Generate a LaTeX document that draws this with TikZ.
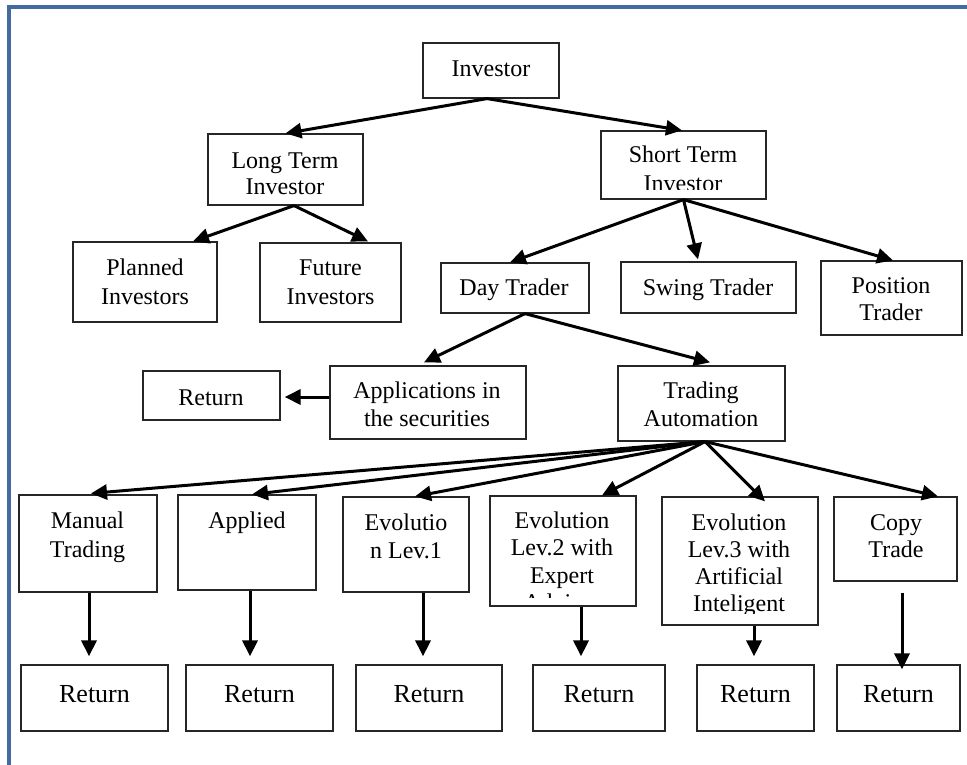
\documentclass[tikz,border=0pt]{standalone}
\usepackage{fontspec}
\setmainfont{Liberation Serif}
\usetikzlibrary{arrows.meta}

\definecolor{framecol}{RGB}{66,108,160}

% one text line per node, first baseline at (x,y), lines #4 apart
\newcommand\boxtext[5]{%
  \foreach \ln [count=\k] in {#5} {%
    \node[txt] (#1-\k) at (#2,{#3+#4*(\k-1)}) {\ln};}}

\begin{document}
\begin{tikzpicture}[x=1pt,y=-1pt,
  box/.style={draw=black!85,line width=1.2pt,inner sep=0pt,
    minimum width=#1},
  txt/.style={anchor=base,inner sep=0pt,font=\fontsize{24}{28}\selectfont},
  bigtxt/.style={txt,font=\fontsize{26}{30}\selectfont},
  arr/.style={line width=3pt,-{Triangle[length=16pt,width=15pt]}}]

\useasboundingbox (0,0) rectangle (967,765);

% page frame (top and left edges)
\draw[framecol,line width=3.2pt] (9,765) -- (9,7) -- (967,7);

% boxes
\node[box=136,minimum height=55] (inv) at (491,70.5) {};
\node[box=155,minimum height=71] (lt)  at (285.5,169.5) {};
\node[box=165,minimum height=68] (st)  at (683.5,165) {};
\node[box=144,minimum height=80] (pl)  at (145,282) {};
\node[box=141,minimum height=79] (fu)  at (330.5,282.5) {};
\node[box=148,minimum height=50] (dt)  at (515,288) {};
\node[box=175,minimum height=51] (sw)  at (708.5,287.5) {};
\node[box=141,minimum height=74] (po)  at (891.5,298) {};
\node[box=137,minimum height=49] (rl)  at (211.5,395.5) {};
\node[box=196,minimum height=73] (ap)  at (428,402.5) {};
\node[box=167,minimum height=75] (ta)  at (701.5,403.5) {};
\node[box=138,minimum height=97]  (mt)  at (88,543.5) {};
\node[box=138,minimum height=95]  (apl) at (247,542.5) {};
\node[box=126,minimum height=95]  (e1)  at (406,544.5) {};
\node[box=146,minimum height=110] (e2)  at (563,551) {};
\node[box=156,minimum height=128] (e3)  at (740,561) {};
\node[box=123,minimum height=84]  (ct)  at (895.5,539) {};
\node[box=147,minimum height=66] (r1) at (94.5,698) {};
\node[box=147,minimum height=66] (r2) at (259.5,698) {};
\node[box=146,minimum height=66] (r3) at (429,698) {};
\node[box=132,minimum height=66] (r4) at (599,698) {};
\node[box=117,minimum height=66] (r5) at (755.5,698) {};
\node[box=123,minimum height=66] (r6) at (898.5,698) {};

% labels
\boxtext{tinv}{491}{77}{28}{Investor}
\boxtext{tlt}{285}{168}{27}{Long Term,Investor}
\begin{scope}
  \clip (601,131) rectangle (766,190);
  \boxtext{tst}{683}{163}{29}{Short Term,Investor}
\end{scope}
\boxtext{tpl}{145}{275}{29}{Planned,Investors}
\boxtext{tfu}{330.5}{275}{29}{Future,Investors}
\boxtext{tdt}{514}{295}{28}{Day Trader}
\boxtext{tsw}{708}{295}{28}{Swing Trader}
\boxtext{tpo}{891}{293}{27.5}{Position,Trader}
\boxtext{trl}{211}{405}{28}{Return}
\boxtext{tap}{427}{398}{28}{Applications in,the securities}
\boxtext{tta}{701}{398}{28.5}{Trading,Automation}
\boxtext{tmt}{87.5}{528}{29}{Manual,Trading}
\boxtext{tapl}{247}{528}{28}{Applied}
\boxtext{te1}{406}{530}{28}{Evolutio,n Lev.1}
\begin{scope}
  \clip (490,496) rectangle (636,597.5);
  \boxtext{te2}{562}{528}{27.5}{Evolution,Lev.2 with,Expert,Advisor}
\end{scope}
\begin{scope}
  \clip (662,497) rectangle (818,613.5);
  \boxtext{te3}{739}{530}{27}{Evolution,Lev.3 with,Artificial,Inteligent}
\end{scope}
\boxtext{tct}{896}{530}{27}{Copy,Trade}
\foreach \r in {1,...,6} {
  \node[bigtxt] (tr\r) at ([yshift=-4pt]r\r.center) {Return};
}

% connectors
\draw[arr] ([xshift=-4pt]inv.south) -- (lt.north);
\draw[arr] ([xshift=-4pt]inv.south) -- ([xshift=-1.5pt]st.north);
\draw[arr] ([xshift=8.5pt]lt.south) -- ([xshift=48pt]pl.north);
\draw[arr] ([xshift=8.5pt]lt.south) -- ([xshift=37.5pt,yshift=1pt]fu.north);
\draw[arr] (st.south) -- ([xshift=-5pt]dt.north);
\draw[arr] (st.south) -- ([xshift=-10.5pt,yshift=2pt]sw.north);
\draw[arr] (st.south) -- ([xshift=1.5pt]po.north);
\draw[arr] ([xshift=10pt]dt.south) -- ([xshift=-4pt,yshift=3pt]ap.north);
\draw[arr] ([xshift=10pt]dt.south) -- ([xshift=8.5pt,yshift=3pt]ta.north);
\draw[arr] ([yshift=5.5pt]ap.west) -- ([xshift=4pt,yshift=-1.5pt]rl.east);
\draw[arr] ([xshift=3.5pt]ta.south) -- ([xshift=3pt,yshift=1pt]mt.north);
\draw[arr] ([xshift=3.5pt]ta.south) -- ([xshift=5pt]apl.north);
\draw[arr] ([xshift=3.5pt]ta.south) -- ([xshift=9pt]e1.north);
\draw[arr] ([xshift=3.5pt]ta.south) -- ([xshift=39pt]e2.north);
\draw[arr] ([xshift=3.5pt]ta.south) -- ([xshift=25pt,yshift=-5pt]e3.north);
\draw[arr] ([xshift=3.5pt]ta.south) -- ([xshift=42.5pt]ct.north);
\draw[arr] ([xshift=1pt]mt.south)  -- ([xshift=-5.5pt,yshift=8pt]r1.north);
\draw[arr] ([xshift=3pt]apl.south) -- ([xshift=-9.5pt,yshift=8pt]r2.north);
\draw[arr] ([xshift=17pt]e1.south) -- ([xshift=-6pt,yshift=8pt]r3.north);
\draw[arr] ([xshift=18pt]e2.south) -- ([xshift=-18pt,yshift=8pt]r4.north);
\draw[arr] ([xshift=14pt]e3.south) -- ([xshift=-1.5pt,yshift=8pt]r5.north);
\draw[arr] ([xshift=6.5pt,yshift=-11pt]ct.south) -- ([xshift=3.5pt,yshift=-5pt]r6.north);

\end{tikzpicture}
\end{document}
